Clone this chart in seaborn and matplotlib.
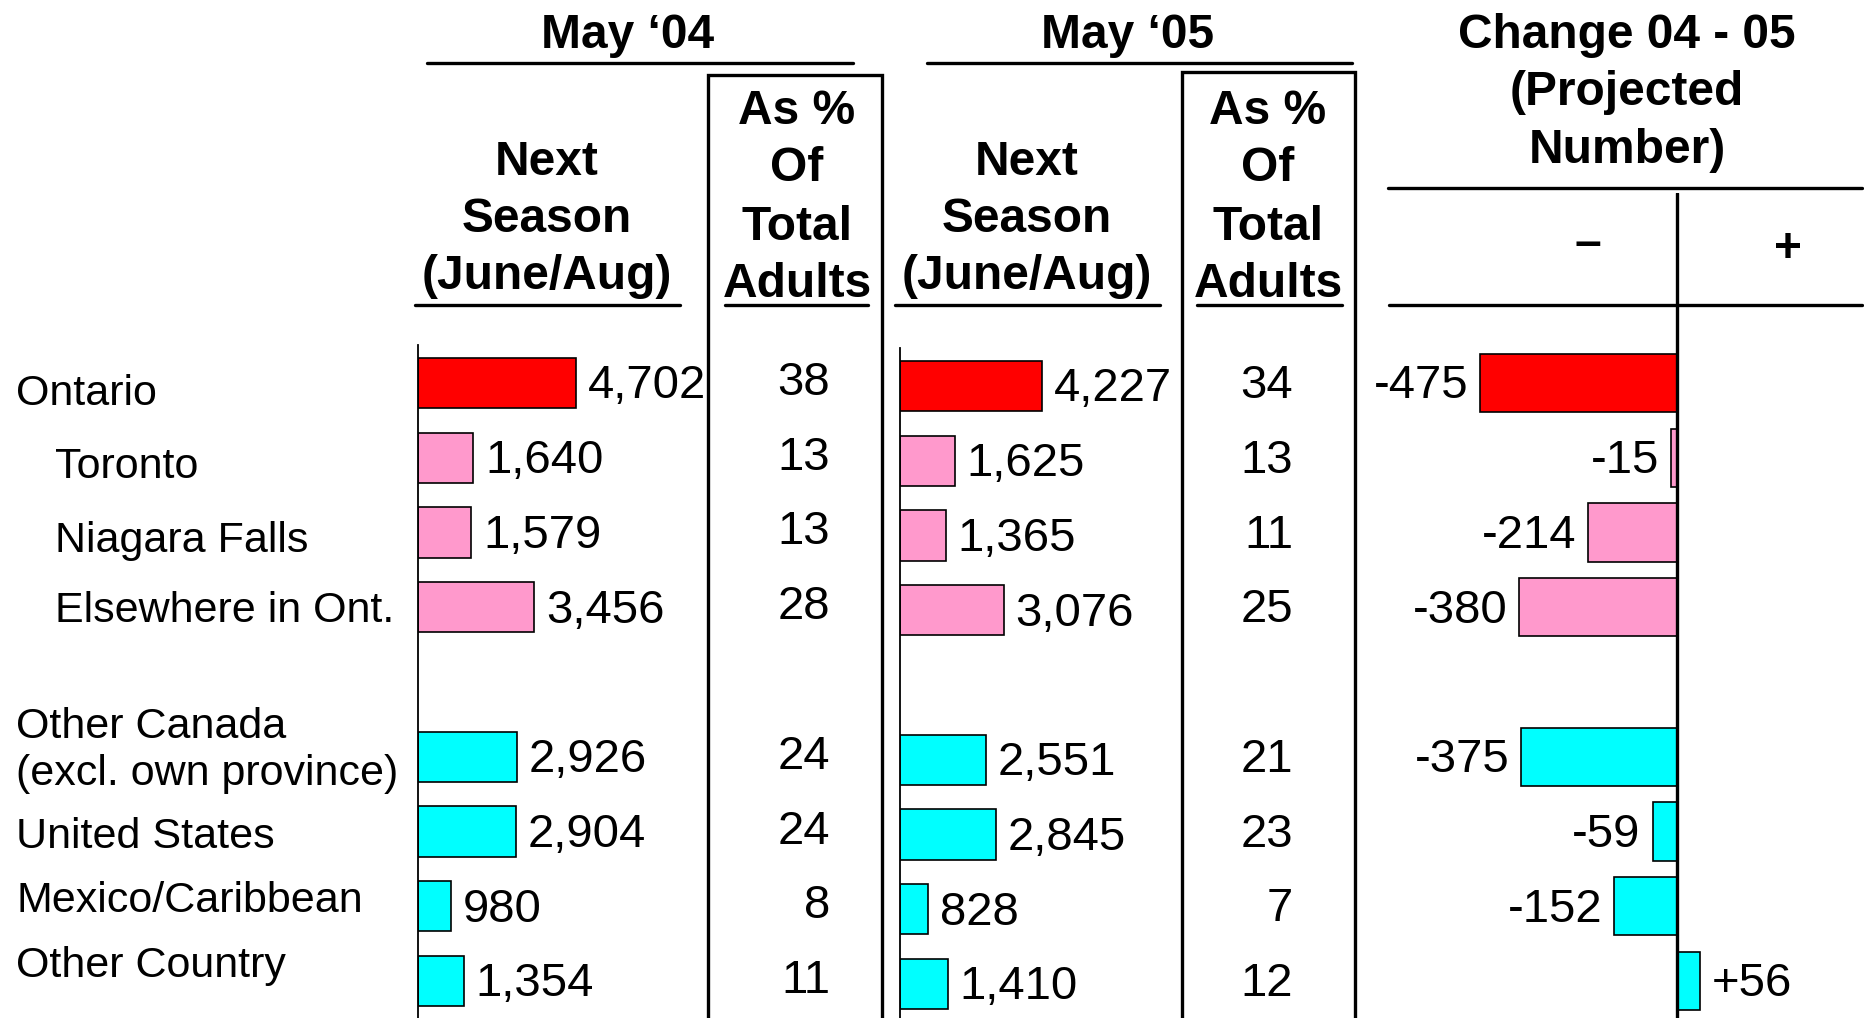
import pandas as pd
import matplotlib.pyplot as plt
import matplotlib.transforms as mtransforms
from matplotlib.lines import Line2D
from matplotlib.patches import Rectangle
import seaborn as sns

# data
regions = ["Ontario", "Toronto", "Niagara Falls", "Elsewhere in Ont.",
           "Other Canada\n(excl. own province)", "United States",
           "Mexico/Caribbean", "Other Country"]
indented = [False, True, True, True, False, False, False, False]
next_season_04 = [4702, 1640, 1579, 3456, 2926, 2904, 980, 1354]
pct_adults_04 = [38, 13, 13, 28, 24, 24, 8, 11]
next_season_05 = [4227, 1625, 1365, 3076, 2551, 2845, 828, 1410]
pct_adults_05 = [34, 13, 11, 25, 21, 23, 7, 12]
change_04_05 = [-475, -15, -214, -380, -375, -59, -152, 56]
bar_colors = ["#FF0000", "#FF99CC", "#FF99CC", "#FF99CC",
              "#00FFFF", "#00FFFF", "#00FFFF", "#00FFFF"]

GAP = " "
order = regions[:4] + [GAP] + regions[4:]
palette = dict(zip(regions, bar_colors))

df = pd.DataFrame({"region": regions, "may04": next_season_04, "may05": next_season_05,
                   "change": change_04_05})

sns.set_theme(style="white")
plt.rcParams["font.family"] = ["Liberation Sans", "DejaVu Sans"]
plt.rcParams["text.color"] = "black"

W, H = 1865, 1018
fig = plt.figure(figsize=(W / 100, H / 100), dpi=100)
fig.patch.set_facecolor("white")

NUM_FS = 34
LABEL_FS = 31
HEAD_FS = 34.5


def fx(x):
    return x / W


def fy(y):
    return 1 - y / H


def axes_px(x0, y0, x1, y1):
    ax = fig.add_axes([fx(x0), fy(y1), (x1 - x0) / W, (y1 - y0) / H])
    ax.set_facecolor("none")
    return ax


def hline(x0, x1, y, lw=2.4):
    fig.add_artist(Line2D([fx(x0), fx(x1)], [fy(y), fy(y)], transform=fig.transFigure,
                          color="black", lw=lw))


def lines_at(x, baselines, texts, **kw):
    for b, t in zip(baselines, texts):
        fig.text(fx(x), fy(b), t, ha="center", va="baseline", fontsize=HEAD_FS,
                 fontweight="bold", **kw)


STEP = 74.75
PX_PER_UNIT = 0.0337


def row_ylim(top_px, bottom_px, row0):
    return ((bottom_px - row0) / STEP, (top_px - row0) / STEP)


def clean(ax):
    ax.set_xlabel("")
    ax.set_ylabel("")
    ax.set_xticks([])
    ax.set_yticks([])
    for s in ["top", "right", "bottom", "left"]:
        ax.spines[s].set_visible(False)


# panel 1 and 2: next season bars
panels = [(418, 345, 383, "may04", pct_adults_04, 830),
          (900, 348, 386, "may05", pct_adults_05, 1293)]
for x0, top, row0, col, pcts, pct_x in panels:
    ax = axes_px(x0, top, x0 + 282, H)
    sns.barplot(data=df, y="region", x=col, hue="region", palette=palette, order=order,
                legend=False, width=0.67, saturation=1, edgecolor="black",
                linewidth=1.2, ax=ax)
    clean(ax)
    ax.spines["left"].set_visible(True)
    ax.spines["left"].set_color("black")
    ax.spines["left"].set_linewidth(1.3)
    ax.set_xlim(0, 282 / PX_PER_UNIT)
    ax.set_ylim(*row_ylim(top, H, row0))
    trans = mtransforms.blended_transform_factory(fig.transFigure, ax.transData)
    for r, v, p in zip(regions, df[col], pcts):
        i = order.index(r)
        ax.annotate(f"{v:,}", xy=(v, i), xytext=(8.5, -2.5), textcoords="offset points",
                    ha="left", va="center", fontsize=NUM_FS)
        ax.text(fx(pct_x), i, str(p), transform=trans, ha="right", va="center",
                fontsize=NUM_FS)

# row labels, baselines in pixels
label_baselines = [[405], [478], [552], [622], [738, 785], [848], [912], [977]]
for r, ind, bases in zip(regions, indented, label_baselines):
    for line, b in zip(r.split("\n"), bases):
        fig.text(fx(55 if ind else 16), fy(b), line, ha="left", va="baseline",
                 fontsize=LABEL_FS)

# panel 3: change
ax3 = axes_px(1380, 193, W, H)
sns.barplot(data=df, y="region", x="change", hue="region", palette=palette, order=order,
            legend=False, width=0.78, saturation=1, edgecolor="black", linewidth=1.2,
            ax=ax3)
clean(ax3)
ax3.set_xlim(-(1677 - 1380) / 0.415, (W - 1677) / 0.415)
ax3.set_ylim(*row_ylim(193, H, 383))
ax3.axvline(0, color="black", lw=2.4)
for r, v in zip(regions, change_04_05):
    i = order.index(r)
    if v < 0:
        ax3.annotate(f"{v}", xy=(v, i), xytext=(-8.5, -2.5), textcoords="offset points",
                     ha="right", va="center", fontsize=NUM_FS)
    else:
        ax3.annotate(f"+{v}", xy=(v, i), xytext=(8.5, -2.5), textcoords="offset points",
                     ha="left", va="center", fontsize=NUM_FS)

# headers
lines_at(628, [48], ["May \u201804"])
lines_at(1128, [48], ["May \u201805"])
hline(427, 853, 63)
hline(927, 1352, 63)
for cx in [547, 1027]:
    lines_at(cx, [175, 232, 289], ["Next", "Season", "(June/Aug)"])
for cx in [797, 1268]:
    lines_at(cx, [124, 181, 240, 297], ["As %", "Of", "Total", "Adults"])
hline(415, 680, 305)
hline(895, 1160, 305)
hline(725, 868, 305)
hline(1197, 1342, 305)

for x0, x1, top in [(708, 882, 75), (1182, 1355, 72)]:
    fig.add_artist(Rectangle((fx(x0), fy(H + 20)), (x1 - x0) / W, (H + 20 - top) / H,
                             transform=fig.transFigure, fill=False, edgecolor="black",
                             lw=2.4))

lines_at(1627, [48, 105, 163], ["Change 04 - 05", "(Projected", "Number)"])
hline(1388, 1862, 188)
hline(1389, 1862, 305)
lines_at(1588, [257], ["\u2013"])
lines_at(1788, [262], ["+"])

fig.savefig("out.png", dpi=100)
